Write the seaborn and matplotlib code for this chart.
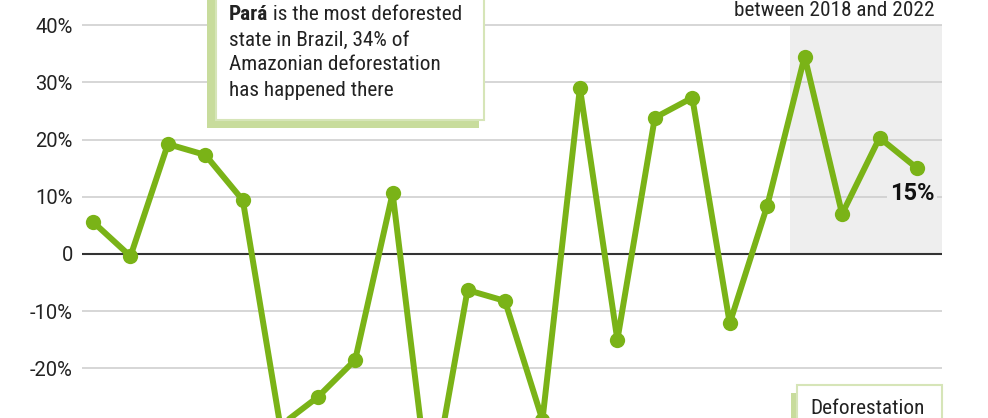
import matplotlib
matplotlib.use("Agg")
import matplotlib.pyplot as plt
from matplotlib import font_manager as fm
from matplotlib.patches import Rectangle
import seaborn as sns
import pandas as pd

# ---- data ----
years = list(range(2000, 2023))
change_pct = [5.6, -0.4, 19.2, 17.3, 9.4, -30.0, -25.0, -18.5, 10.6, -43.0,
              -6.3, -8.2, -29.0, 29.0, -15.0, 23.8, 27.3, -12.1, 8.4, 34.5,
              7.0, 20.3, 15.0]
ytick_vals = [-30, -20, -10, 0, 10, 20, 30, 40]
ytick_labels = ["-30%", "-20%", "-10%", "0", "10%", "20%", "30%", "40%"]
last_label = "15%"
highlight_start = 2018.61
top_text = "between 2018 and 2022"
note_bold = "Pará"
note_lines = [" is the most deforested", "state in Brazil, 34% of",
              "Amazonian deforestation", "has happened there"]
legend_text = "Deforestation"

df = pd.DataFrame({"year": years, "change": change_pct})

# ---- style ----
sns.set_theme(style="white")
names = {f.name for f in fm.fontManager.ttflist}
cond = next((n for n in ["Roboto Condensed", "Roboto"] if n in names), "DejaVu Sans")
base = "Roboto" if "Roboto" in names else "DejaVu Sans"
plt.rcParams["font.family"] = [base, "DejaVu Sans"]

GREEN = "#7ab317"
TEXT = "#222222"
GRID = "#cccccc"
SHADE = "#eeeeee"
SHADOW = "#c8dc9c"
BORDER = "#d6e5b8"
FS = 15.3

W, H = 988, 418
fig = plt.figure(figsize=(W / 100, H / 100), dpi=100)
fig.patch.set_facecolor("white")

def fx(x):
    return x / W

def fy(y):
    return 1 - y / H

ax = fig.add_axes([fx(82), 0, (942 - 82) / W, 1])
ax.set_facecolor("white")

x0 = 2000 - 11 / 37.45
x1 = 2022 + 25 / 37.45
Y0, Y1 = -28.65, 44.37

# highlight region
ax.fill_between([highlight_start, x1], 0, 40, color=SHADE, zorder=0, linewidth=0)

# grid
for v in ytick_vals:
    if v == 0:
        continue
    ax.axhline(v, color=GRID, lw=1.1, zorder=0.5)
ax.axhline(0, color="#333333", lw=1.5, zorder=0.6)

sns.lineplot(data=df, x="year", y="change", ax=ax, color=GREEN, lw=4.3,
             marker="o", markersize=11, markeredgewidth=0, zorder=3)

ax.set_xlim(x0, x1)
ax.set_ylim(Y0, Y1)
ax.set_yticks(ytick_vals)
ax.set_yticklabels(ytick_labels)
ax.set_ylim(Y0, Y1)
ax.tick_params(axis="y", length=0, pad=6.5, labelsize=14.5, labelcolor=TEXT)
ax.set_xticks([])
ax.set_xlim(x0, x1)
ax.set_xlabel("")
ax.set_ylabel("")
for s in ax.spines.values():
    s.set_visible(False)

# last value label
ax.annotate(last_label, xy=(years[-1], change_pct[-1]), xytext=(-5, -25),
            textcoords="offset pixels", ha="center", va="center",
            fontsize=17, fontweight="bold", color="#111111", zorder=4,
            bbox=dict(boxstyle="square,pad=0.1", fc=SHADE, ec="none"))

# top text
fig.text(fx(935), fy(10), top_text, ha="right", va="center",
         fontsize=FS, color=TEXT, family=[cond, "DejaVu Sans"])

# annotation box (top-left)
fig.add_artist(Rectangle((fx(207), fy(128)), fx(479 - 207), fy(-40) - fy(128),
                         transform=fig.transFigure, fc=SHADOW, ec="none", zorder=5))
fig.add_artist(Rectangle((fx(216), fy(120)), fx(484 - 216), fy(-40) - fy(120),
                         transform=fig.transFigure, fc="white", ec=BORDER, lw=1.5, zorder=6))
tb = fig.text(fx(229), fy(15), note_bold, ha="left", va="center", fontsize=FS,
              fontweight="bold", color=TEXT, family=[cond, "DejaVu Sans"], zorder=7)
fig.canvas.draw()
bb = tb.get_window_extent()
fig.text(bb.x1 / W, fy(15), note_lines[0], ha="left", va="center", fontsize=FS,
         color=TEXT, family=[cond, "DejaVu Sans"], zorder=7)
for i, line in enumerate(note_lines[1:], start=1):
    fig.text(fx(229), fy(15 + 25 * i), line, ha="left", va="center", fontsize=FS,
             color=TEXT, family=[cond, "DejaVu Sans"], zorder=7)

# legend box (bottom-right)
fig.add_artist(Rectangle((fx(791), fy(450)), fx(936 - 791), fy(393) - fy(450),
                         transform=fig.transFigure, fc=SHADOW, ec="none", zorder=5))
fig.add_artist(Rectangle((fx(797), fy(450)), fx(942 - 797), fy(385) - fy(450),
                         transform=fig.transFigure, fc="white", ec=BORDER, lw=1.5, zorder=6))
fig.text(fx(868), fy(408), legend_text, ha="center", va="center", fontsize=FS,
         color=TEXT, family=[cond, "DejaVu Sans"], zorder=7)

fig.savefig("out.png", dpi=100)
